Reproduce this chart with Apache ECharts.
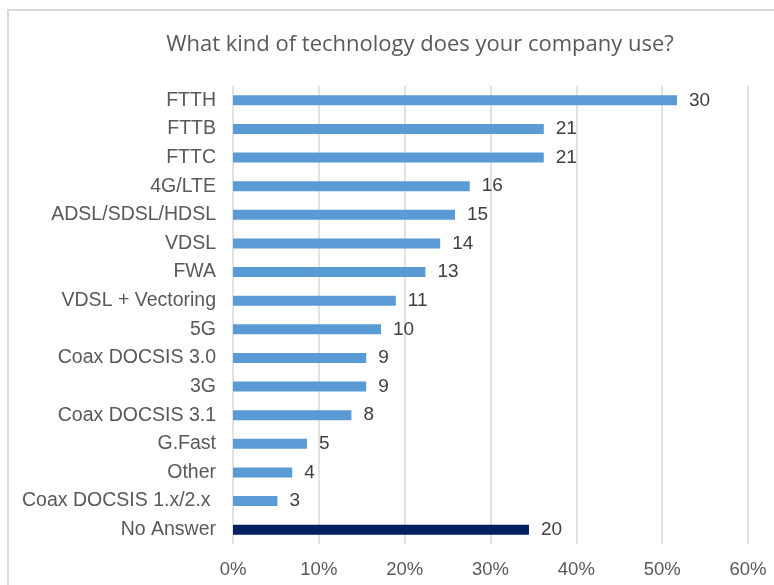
<!DOCTYPE html>
<html>
<head>
<meta charset="utf-8">
<script src="https://cdn.jsdelivr.net/npm/echarts@6/dist/echarts.min.js"></script>
<style>
  html, body { margin: 0; padding: 0; background: #fff; }
  #chart { width: 774px; height: 585px; }
</style>
</head>
<body>
<div id="chart"></div>
<script>
// Survey answers: number of companies naming each technology
const categories = [
  'FTTH', 'FTTB', 'FTTC', '4G/LTE', 'ADSL/SDSL/HDSL', 'VDSL', 'FWA',
  'VDSL + Vectoring', '5G', 'Coax DOCSIS 3.0', '3G', 'Coax DOCSIS 3.1',
  'G.Fast', 'Other', 'Coax DOCSIS 1.x/2.x ', 'No Answer'
];
const counts = [30, 21, 21, 16, 15, 14, 13, 11, 10, 9, 9, 8, 5, 4, 3, 20];
const respondents = 58;
const xTicks = [0, 0.1, 0.2, 0.3, 0.4, 0.5, 0.6];

const barColor = '#5B9BD5';
const noAnswerColor = '#002060';

const seriesData = counts.map((c, i) => ({
  value: c / respondents,
  count: c,
  itemStyle: { color: categories[i] === 'No Answer' ? noAnswerColor : barColor }
}));

const chart = echarts.init(document.getElementById('chart'), null, { renderer: 'canvas' });
chart.setOption({
  animation: false,
  backgroundColor: '#ffffff',
  title: {
    text: 'What kind of technology does your company use?',
    left: 415,
    textAlign: 'center',
    top: 29,
    textStyle: {
      fontFamily: 'Open Sans',
      fontSize: 22,
      fontWeight: 'normal',
      color: '#595959'
    }
  },
  graphic: [{
    type: 'rect',
    shape: { x: 8, y: 10, width: 800, height: 620 },
    style: { fill: 'none', stroke: '#d9d9d9', lineWidth: 2 },
    silent: true
  }],
  grid: { left: 233, right: 26, top: 86, bottom: 41, containLabel: false },
  xAxis: {
    type: 'value',
    min: xTicks[0],
    max: xTicks[xTicks.length - 1],
    interval: 0.1,
    axisLine: { show: false },
    axisTick: { show: false },
    splitLine: { show: true, lineStyle: { color: '#d9d9d9', width: 1.5 } },
    axisLabel: {
      margin: 16,
      fontFamily: 'Liberation Sans',
      fontSize: 18.5,
      color: '#595959',
      formatter: v => Math.round(v * 100) + '%'
    }
  },
  yAxis: {
    type: 'category',
    data: categories,
    inverse: true,
    axisLine: { show: false },
    axisTick: { show: false },
    splitLine: { show: false },
    axisLabel: {
      margin: 17,
      fontFamily: 'Liberation Sans',
      fontSize: 19.5,
      color: '#595959'
    }
  },
  series: [{
    type: 'bar',
    data: seriesData,
    barWidth: 10,
    label: {
      show: true,
      position: 'right',
      distance: 12,
      fontFamily: 'Liberation Sans',
      fontSize: 19,
      color: '#404040',
      formatter: p => p.data.count
    }
  }]
});
</script>
</body>
</html>
